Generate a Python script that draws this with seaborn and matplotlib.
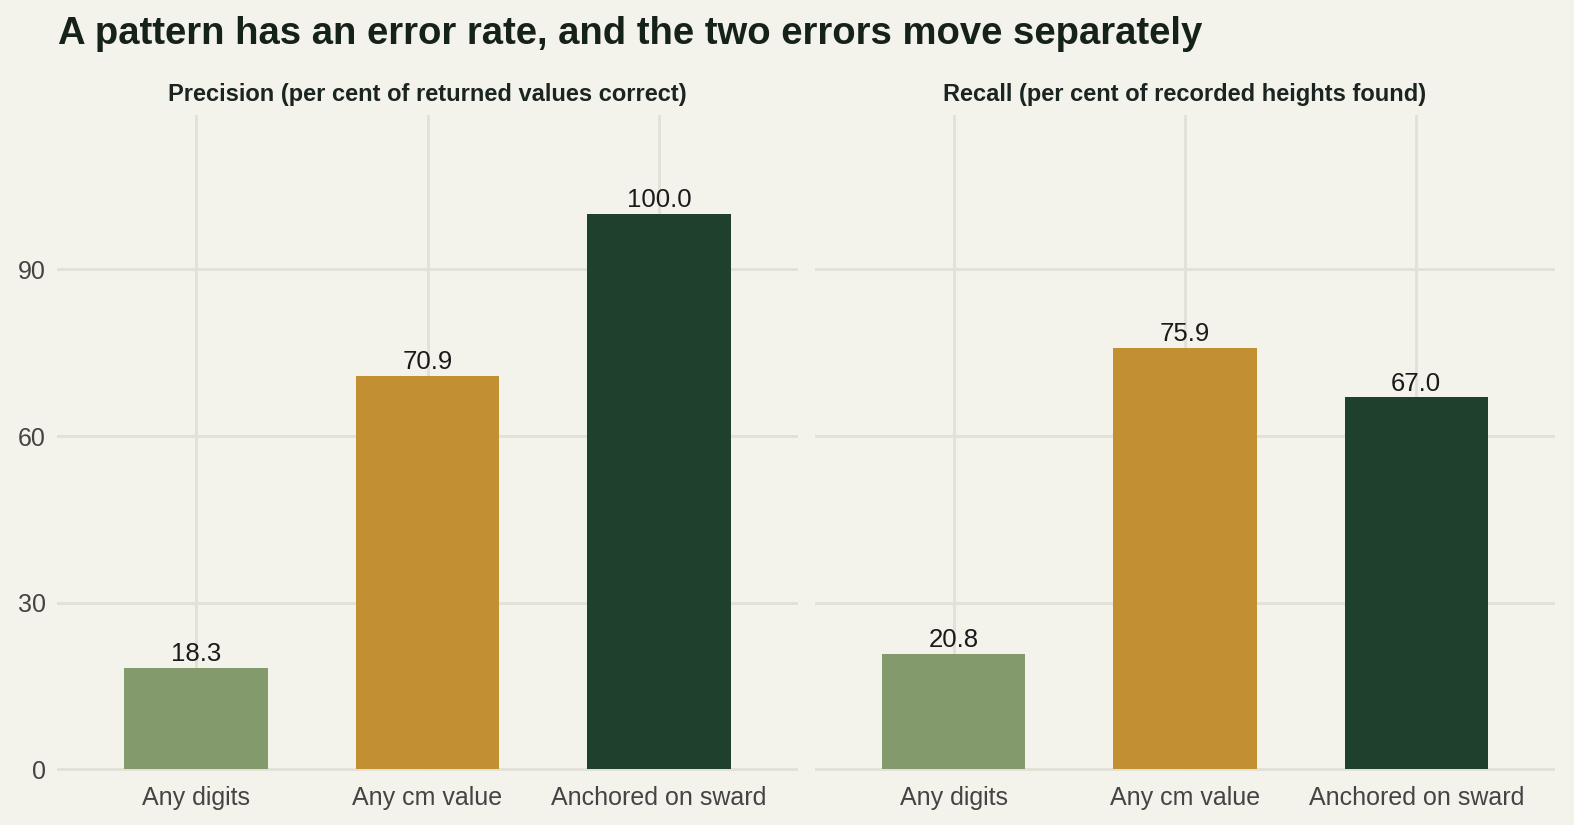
import matplotlib
matplotlib.use("Agg")
import matplotlib.pyplot as plt
import seaborn as sns
import pandas as pd

methods = ["Any digits", "Any cm value", "Anchored on sward"]
precision = [18.3, 70.9, 100.0]
recall = [20.8, 75.9, 67.0]
panel_titles = ["Precision (per cent of returned values correct)",
                "Recall (per cent of recorded heights found)"]
colors = ["#839A6C", "#C29032", "#1F402D"]

bg = "#F3F2EB"
grid = "#E2E1D7"

sns.set_theme(style="white")
plt.rcParams["font.family"] = ["Liberation Sans", "DejaVu Sans"]

fig = plt.figure(figsize=(15.74, 8.25), dpi=100, facecolor=bg)
W, H = 1574, 825
ax1 = fig.add_axes([57 / W, (H - 771) / H, 741 / W, (771 - 115) / H])
ax2 = fig.add_axes([815 / W, (H - 771) / H, 740 / W, (771 - 115) / H])

for ax, vals, ttl in [(ax1, precision, panel_titles[0]), (ax2, recall, panel_titles[1])]:
    df = pd.DataFrame({"method": methods, "value": vals})
    ax.set_facecolor(bg)
    sns.barplot(data=df, x="method", y="value", hue="method", palette=colors,
                order=methods, hue_order=methods, width=0.62, legend=False,
                saturation=1, linewidth=0, ax=ax, zorder=3)
    for c in ax.containers:
        ax.bar_label(c, fmt="%.1f", padding=1, fontsize=18.5, color="#1a1a1a", zorder=4)
    ax.set_xlim(-0.6, 2.6)
    ax.set_ylim(-0.3, 117.8)
    ax.set_yticks([0, 30, 60, 90])
    ax.grid(True, color=grid, linewidth=2, zorder=0)
    ax.set_axisbelow(True)
    for s in ax.spines.values():
        s.set_visible(False)
    ax.tick_params(axis="x", length=0, labelsize=18, labelcolor="#444444", pad=11)
    ax.tick_params(axis="y", length=0, labelsize=18, labelcolor="#444444", pad=8)
    ax.set_xlabel("")
    ax.set_ylabel("")
    ax.set_title(ttl, fontsize=17, fontweight="bold", color="#1a2420", pad=10)

ax2.tick_params(axis="y", labelleft=False)

fig.text(58 / W, 1 - 34 / H, "A pattern has an error rate, and the two errors move separately",
         fontsize=27.5, fontweight="bold", color="#15221a", ha="left", va="center")

fig.savefig("out.png", dpi=100, facecolor=bg)
